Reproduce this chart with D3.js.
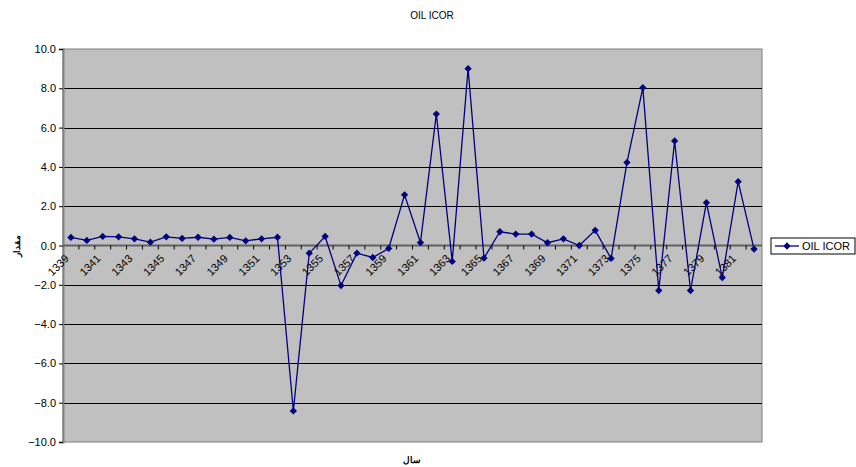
<!DOCTYPE html>
<meta charset="utf-8" />
<script src="https://d3js.org/d3.v7.js"></script>
<style>
  body { margin: 0; background: white; }
  text { font-family: "Liberation Sans", Arial, sans-serif; }
</style>
<div id="chart"></div>
<script>
  // years 1339..1382
  const years = [
    1339, 1340, 1341, 1342, 1343, 1344, 1345, 1346, 1347, 1348, 1349,
    1350, 1351, 1352, 1353, 1354, 1355, 1356, 1357, 1358, 1359, 1360,
    1361, 1362, 1363, 1364, 1365, 1366, 1367, 1368, 1369, 1370, 1371,
    1372, 1373, 1374, 1375, 1376, 1377, 1378, 1379, 1380, 1381, 1382
  ];
  const icor = [
    0.41, 0.26, 0.46, 0.44, 0.34, 0.17, 0.44, 0.36, 0.42, 0.32, 0.41,
    0.24, 0.34, 0.42, -8.42, -0.39, 0.46, -2.04, -0.39, -0.61, -0.15, 2.58,
    0.15, 6.69, -0.81, 9.0, -0.64, 0.7, 0.58, 0.58, 0.14, 0.34, 0.0,
    0.77, -0.66, 4.23, 8.03, -2.29, 5.32, -2.29, 2.18, -1.63, 3.25, -0.18
  ];
  const yTicks = [-10, -8, -6, -4, -2, 0, 2, 4, 6, 8, 10];
  const seriesName = "OIL ICOR";

  const width = 856;
  const height = 467;
  const plot = { left: 63, right: 762, top: 49, bottom: 442 };

  const svg = d3
    .select("#chart")
    .append("svg")
    .attr("width", width)
    .attr("height", height);

  const x = d3
    .scaleBand()
    .domain(years)
    .range([plot.left, plot.right]);

  const y = d3
    .scaleLinear()
    .domain([-10, 10])
    .range([plot.bottom, plot.top]);

  // plot background
  svg
    .append("rect")
    .attr("x", plot.left)
    .attr("y", plot.top)
    .attr("width", plot.right - plot.left)
    .attr("height", plot.bottom - plot.top)
    .attr("fill", "#c0c0c0")
    .attr("stroke", "#808080")
    .attr("stroke-width", 1);

  // gridlines
  svg
    .append("g")
    .selectAll("line")
    .data(yTicks.filter((d) => d !== 10 && d !== -10 && d !== 0))
    .join("line")
    .attr("x1", plot.left)
    .attr("x2", plot.right)
    .attr("y1", (d) => Math.round(y(d)) + 0.5)
    .attr("y2", (d) => Math.round(y(d)) + 0.5)
    .attr("stroke", "#000")
    .attr("stroke-width", 1);

  // y axis
  const yAxis = svg
    .append("g")
    .attr("transform", "translate(" + plot.left + ",0)")
    .call(
      d3.axisLeft(y)
        .tickValues(yTicks)
        .tickSize(4)
        .tickPadding(3)
        .tickFormat(d3.format(".1f"))
    );
  yAxis.select(".domain").attr("stroke", "#808080").attr("stroke-width", 2);
  yAxis.selectAll(".tick line").attr("stroke", "#000");
  yAxis
    .selectAll(".tick text")
    .style("font-size", "11px")
    .attr("fill", "#000");

  // x axis on zero line
  const y0 = y(0);
  svg
    .append("line")
    .attr("x1", plot.left)
    .attr("x2", plot.right)
    .attr("y1", y0)
    .attr("y2", y0)
    .attr("stroke", "#606060")
    .attr("stroke-width", 2);

  svg
    .append("g")
    .selectAll("line")
    .data(years.slice(1))
    .join("line")
    .attr("x1", (d) => x(d))
    .attr("x2", (d) => x(d))
    .attr("y1", y0)
    .attr("y2", y0 + 4)
    .attr("stroke", "#000");

  svg
    .append("g")
    .selectAll("text")
    .data(years.filter((d, i) => i % 2 === 0))
    .join("text")
    .attr(
      "transform",
      (d) =>
        "translate(" + (x(d) + x.bandwidth() / 2 - 4) + "," + (y0 + 11) + ") rotate(-45)"
    )
    .attr("text-anchor", "end")
    .attr("dy", "0.35em")
    .style("font-size", "11px")
    .attr("fill", "#000")
    .text((d) => d);

  // series line
  const line = d3
    .line()
    .x((d, i) => x(years[i]) + x.bandwidth() / 2)
    .y((d) => y(d));

  svg
    .append("path")
    .datum(icor)
    .attr("d", line)
    .attr("fill", "none")
    .attr("stroke", "#000080")
    .attr("stroke-width", 1.3);

  const diamond = d3.symbol().type(d3.symbolDiamond2).size(34);

  svg
    .append("g")
    .selectAll("path")
    .data(icor)
    .join("path")
    .attr("d", diamond)
    .attr(
      "transform",
      (d, i) => "translate(" + (x(years[i]) + x.bandwidth() / 2) + "," + y(d) + ")"
    )
    .attr("fill", "#000080");

  // title
  svg
    .append("text")
    .attr("x", 432)
    .attr("y", 19)
    .attr("text-anchor", "middle")
    .style("font-size", "10px")
    .text("OIL ICOR");

  // axis titles
  svg
    .append("text")
    .attr("transform", "translate(20," + y0 + ") rotate(-90)")
    .attr("text-anchor", "middle")
    .style("font-size", "9px")
    .style("font-weight", "bold")
    .attr("font-family", "DejaVu Sans")
    .text("مقدار");

  svg
    .append("text")
    .attr("x", 412)
    .attr("y", 463)
    .attr("text-anchor", "middle")
    .style("font-size", "9px")
    .style("font-weight", "bold")
    .attr("font-family", "DejaVu Sans")
    .text("سال");

  // legend
  const legend = svg.append("g").attr("transform", "translate(771,238)");
  legend
    .append("rect")
    .attr("width", 84)
    .attr("height", 16)
    .attr("fill", "white")
    .attr("stroke", "#000");
  legend
    .append("line")
    .attr("x1", 4)
    .attr("x2", 28)
    .attr("y1", 8)
    .attr("y2", 8)
    .attr("stroke", "#000080")
    .attr("stroke-width", 1.3);
  legend
    .append("path")
    .attr("d", diamond)
    .attr("transform", "translate(16,8)")
    .attr("fill", "#000080");
  legend
    .append("text")
    .attr("x", 31)
    .attr("y", 12)
    .style("font-size", "11px")
    .text(seriesName);
</script>
